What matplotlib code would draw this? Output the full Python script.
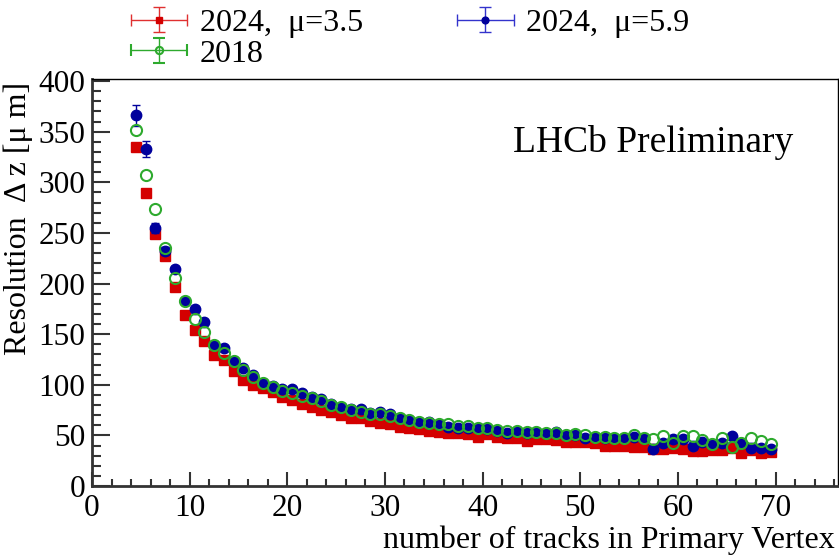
import matplotlib
matplotlib.use("Agg")
import matplotlib.pyplot as plt
from matplotlib.ticker import MultipleLocator
from matplotlib.container import ErrorbarContainer
from matplotlib.legend_handler import HandlerErrorbar

plt.rcParams['font.family'] = ['Liberation Serif', 'DejaVu Serif']

# bin centres: number of tracks in the primary vertex
ntracks = [4.5, 5.5, 6.5, 7.5, 8.5, 9.5, 10.5, 11.5, 12.5, 13.5, 14.5, 15.5,
           16.5, 17.5, 18.5, 19.5, 20.5, 21.5, 22.5, 23.5, 24.5, 25.5, 26.5,
           27.5, 28.5, 29.5, 30.5, 31.5, 32.5, 33.5, 34.5, 35.5, 36.5, 37.5,
           38.5, 39.5, 40.5, 41.5, 42.5, 43.5, 44.5, 45.5, 46.5, 47.5, 48.5,
           49.5, 50.5, 51.5, 52.5, 53.5, 54.5, 55.5, 56.5, 57.5, 58.5, 59.5,
           60.5, 61.5, 62.5, 63.5, 64.5, 65.5, 66.5, 67.5, 68.5, 69.5]

res_2024_mu35 = [335, 289, 249, 227, 197, 169, 154, 143, 129, 124, 114, 105,
                 100, 97, 93, 88, 85, 81, 78, 75, 73, 70, 67,
                 67, 64, 62, 61, 58, 57, 56, 54, 53, 52, 52,
                 51, 48, 51, 48, 47, 47, 44, 46, 46, 45, 43,
                 43, 43, 42, 40, 40, 40, 39, 39, 37, 37, 38,
                 37, 35, 35, 36, 36, 38, 33, 36, 33, 34]

res_2024_mu59 = [366, 333, 255, 232, 214, 183, 175, 162, 139, 136, 123, 117,
                 110, 102, 99, 96, 96, 92, 88, 86, 81, 78, 76,
                 76, 72, 73, 71, 67, 65, 63, 63, 61, 58, 57,
                 57, 57, 56, 54, 52, 54, 52, 53, 52, 53, 50,
                 50, 47, 48, 47, 47, 47, 48, 47, 37, 42, 46,
                 46, 40, 43, 41, 42, 49, 42, 38, 38, 37]
# only the first few mu=5.9 errors stick out of the markers
err_2024_mu59 = [10, 8, 5, 4, 3, 3, 3, 3, 2, 2, 2, 2,
                 2, 2, 2, 2, 2, 2, 1, 1, 1, 1, 1,
                 1, 1, 1, 1, 1, 1, 1, 1, 1, 1, 1,
                 1, 1, 1, 1, 1, 1, 1, 1, 1, 1, 1,
                 1, 1, 1, 1, 1, 1, 1, 1, 1, 1, 1,
                 1, 1, 1, 1, 1, 1, 1, 1, 1, 1]

res_2018 = [352, 307, 274, 235, 205, 183, 165, 152, 139, 131, 123, 115,
            108, 102, 98, 94, 92, 89, 87, 84, 80, 78, 75,
            73, 71, 71, 69, 67, 65, 63, 62, 61, 61, 59,
            59, 57, 57, 55, 54, 54, 53, 53, 52, 52, 50,
            51, 50, 48, 48, 47, 47, 50, 47, 46, 49, 42,
            49, 49, 45, 41, 47, 39, 42, 47, 44, 41]

labels = ['2024,  μ=3.5', '2024,  μ=5.9', '2018']
red = '#d40000'
blue = '#00009c'
green = '#2eaa2e'

fig = plt.figure(figsize=(8.39, 5.56), dpi=100)
ax = fig.add_axes([92 / 839, 70 / 556, 746 / 839, 407 / 556])

ax.plot(ntracks, res_2024_mu35, 's', color=red, ms=7.5, zorder=2)
ax.errorbar(ntracks, res_2024_mu59, yerr=err_2024_mu59, fmt='o', color=blue,
            ms=7.5, elinewidth=1, capsize=3, zorder=3)
ax.plot(ntracks, res_2018, 'o', color=green, ms=8, mfc='none', mew=1.5,
        zorder=4)

# legend proxies in ROOT style (marker + x and y error bars)
nan = [float('nan')]
h_red = ax.errorbar(nan, nan, xerr=0.5, yerr=1, fmt='s', color=red, ms=7.5,
                    ecolor='#e03030', elinewidth=1, capsize=4, label=labels[0])
h_blue = ax.errorbar(nan, nan, xerr=0.5, yerr=1, fmt='o', color=blue, ms=7.5,
                     ecolor='#3333cc', elinewidth=1, capsize=4, label=labels[1])
h_green = ax.errorbar(nan, nan, xerr=0.5, yerr=1, fmt='o', color=green, ms=8,
                      mfc='none', mew=1.5, elinewidth=1, capsize=4,
                      label=labels[2])

ax.set_xlim(0, 76.4)
ax.set_ylim(0, 402)
ax.xaxis.set_major_locator(MultipleLocator(10))
ax.xaxis.set_minor_locator(MultipleLocator(2))
ax.yaxis.set_major_locator(MultipleLocator(50))
ax.yaxis.set_minor_locator(MultipleLocator(10))

ax.tick_params(which='both', direction='in', top=False, right=False,
               labelsize=22.5, width=1.5, color='#333333')
ax.tick_params(axis='y', which='major', length=13, pad=5)
ax.tick_params(axis='y', which='minor', length=6.5)
ax.tick_params(axis='x', which='major', length=10, pad=6)
ax.tick_params(axis='x', which='minor', length=5)

for side in ['left', 'bottom']:
    ax.spines[side].set_linewidth(2)
    ax.spines[side].set_color('#333333')
for side in ['top', 'right']:
    ax.spines[side].set_linewidth(1)

ax.text(0.94, 0.843, 'LHCb Preliminary', transform=ax.transAxes,
        fontsize=27, ha='right', va='center')

fig.text(835 / 839, 8 / 556, 'number of tracks in Primary Vertex',
         fontsize=23, ha='right', va='baseline')
fig.text(18 / 839, 1 - 82 / 556, 'Resolution  Δ z [μ m]', fontsize=23,
         rotation=90, ha='center', va='top')

fig.legend(handles=[h_red, h_green, h_blue], ncol=2, frameon=False,
           fontsize=23, loc='upper left', bbox_to_anchor=(117 / 839, 1.008),
           handlelength=1.85, handletextpad=0.35, columnspacing=2.9,
           labelspacing=0.05, borderaxespad=0, markerscale=0.65,
           handler_map={ErrorbarContainer: HandlerErrorbar(xerr_size=0.88,
                                                           yerr_size=0.38)})

fig.savefig('out.png', dpi=100)
